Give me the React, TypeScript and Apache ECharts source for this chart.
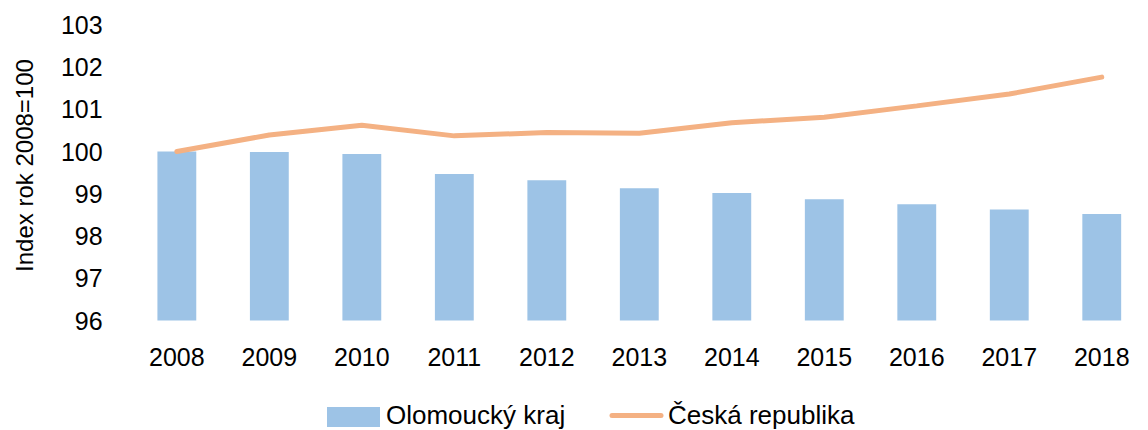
import React, { useEffect, useRef } from "react";
import * as echarts from "echarts";

const years = ["2008", "2009", "2010", "2011", "2012", "2013", "2014", "2015", "2016", "2017", "2018"];
const olomouckyKraj = [100.0, 99.99, 99.94, 99.47, 99.32, 99.13, 99.02, 98.87, 98.75, 98.63, 98.52];
const ceskaRepublika = [100.0, 100.39, 100.62, 100.37, 100.45, 100.43, 100.68, 100.81, 101.08, 101.36, 101.76];
const yTicks = { min: 96, max: 103, interval: 1 };
const seriesNames = ["Olomoucký kraj", "Česká republika"];
const yTitle = "Index rok 2008=100";

const FONT = "'Liberation Sans', Arial, sans-serif";
const BAR_COLOR = "#9DC3E6";
const LINE_COLOR = "#F4B183";

export default function App() {
  const ref = useRef<HTMLDivElement>(null);
  useEffect(() => {
    if (!ref.current) return;
    const chart = echarts.init(ref.current, null, { renderer: "svg" });
    chart.setOption({
      animation: false,
      backgroundColor: "#ffffff",
      textStyle: { fontFamily: FONT },
      grid: { left: 130.6, top: 24.75, bottom: 109.5, width: 1031.8, containLabel: false },
      legend: { show: false },
      xAxis: {
        type: "category",
        data: years,
        axisLine: { show: false },
        axisTick: { show: false },
        axisLabel: { fontFamily: FONT, fontSize: 25, color: "#000", margin: 24 },
      },
      yAxis: {
        type: "value",
        min: yTicks.min,
        max: yTicks.max,
        interval: yTicks.interval,
        axisLine: { show: false },
        axisTick: { show: false },
        splitLine: { show: false },
        axisLabel: { fontFamily: FONT, fontSize: 25, color: "#000", margin: 28 },
      },
      graphic: [
        {
          type: "text",
          x: 24,
          y: 165.5,
          rotation: Math.PI / 2,
          style: {
            text: yTitle,
            fontFamily: FONT,
            fontSize: 24,
            fill: "#000",
            align: "center",
            verticalAlign: "middle",
          },
        },
        {
          type: "rect",
          shape: { x: 327, y: 407, width: 53, height: 20 },
          style: { fill: BAR_COLOR },
        },
        {
          type: "text",
          x: 386,
          y: 415,
          style: {
            text: seriesNames[0],
            fontFamily: FONT,
            fontSize: 26,
            lineHeight: 26,
            fill: "#000",
            align: "left",
            verticalAlign: "middle",
          },
        },
        {
          type: "line",
          shape: { x1: 612, y1: 415.5, x2: 661, y2: 415.5 },
          style: { stroke: LINE_COLOR, lineWidth: 5, lineCap: "round" },
        },
        {
          type: "text",
          x: 668,
          y: 415,
          style: {
            text: seriesNames[1],
            fontFamily: FONT,
            fontSize: 26,
            lineHeight: 26,
            fill: "#000",
            align: "left",
            verticalAlign: "middle",
          },
        },
      ],
      series: [
        {
          name: seriesNames[0],
          type: "bar",
          data: olomouckyKraj,
          barWidth: "42%",
          itemStyle: { color: BAR_COLOR },
        },
        {
          name: seriesNames[1],
          type: "line",
          data: ceskaRepublika,
          symbol: "none",
          lineStyle: { color: LINE_COLOR, width: 5, cap: "round" },
          itemStyle: { color: LINE_COLOR },
        },
      ],
    });
    return () => chart.dispose();
  }, []);
  return (
    <div
      ref={ref}
      style={{ position: "fixed", left: 0, top: 0, width: 1148, height: 430 }}
    />
  );
}
